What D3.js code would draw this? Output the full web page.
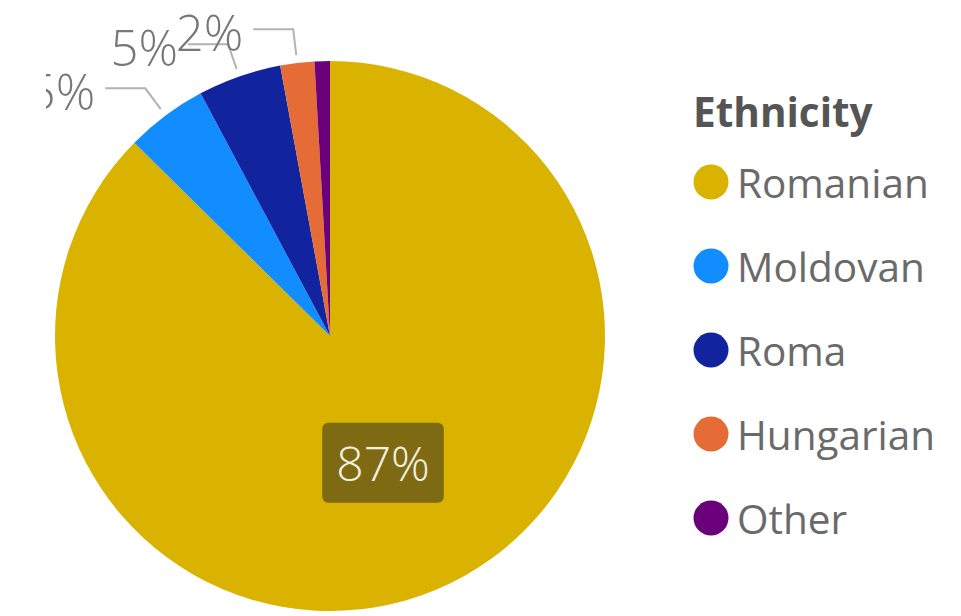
<!DOCTYPE html>
<html><head><meta charset="utf-8">
<script src="https://cdn.jsdelivr.net/npm/d3@7"></script>
<style>html,body{margin:0;padding:0;background:#fff;overflow:hidden}</style>
</head><body>
<svg id="chart" width="961" height="616"></svg>
<script>
// Population share by ethnicity (percent)
const categories = ["Romanian", "Moldovan", "Roma", "Hungarian", "Other"];
const shares = [87.4, 4.8, 4.9, 2.0, 0.9];
const colors = ["#D9B300", "#118DFF", "#12239E", "#E66C37", "#6B007B"];
const legendTitle = "Ethnicity";

const W = 961, H = 616;
const cx = 330, cy = 336, R = 275;
const FONT = "'Open Sans', 'Noto Sans', sans-serif";

const svg = d3.select("#chart");
const total = d3.sum(shares);
const fmt = d3.format(".0%");

const data = categories.map((c, i) => ({ name: c, value: shares[i], color: colors[i] }));
const pie = d3.pie().sort(null).value(d => d.value);
const arcs = pie(data);
const arc = d3.arc().innerRadius(0).outerRadius(R);

// plot area is clipped on the left edge
svg.append("defs").append("clipPath").attr("id", "plotClip")
  .append("rect").attr("x", 46).attr("y", 0).attr("width", W - 46).attr("height", H);

const plot = svg.append("g").attr("clip-path", "url(#plotClip)")
  .append("g").attr("transform", `translate(${cx},${cy})`);

plot.selectAll("path.slice").data(arcs).join("path")
  .attr("class", "slice")
  .attr("d", arc)
  .attr("fill", d => d.data.color);

const polar = (a, r) => [r * Math.sin(a), -r * Math.cos(a)];

// outside labels with leader lines for the small slices
const outside = arcs.filter(d => d.data.value / total < 0.5 && d.data.value / total >= 0.015);
outside.forEach(d => {
  const mid = (d.startAngle + d.endAngle) / 2;
  const p0 = polar(mid, R + 8);
  const p1 = polar(mid, R + 34);
  const p2 = [p1[0] - 40, p1[1]];
  plot.append("polyline")
    .attr("points", [p0, p1, p2].map(p => p.join(",")).join(" "))
    .attr("fill", "none")
    .attr("stroke", "#b3b3b3")
    .attr("stroke-width", 2);
  plot.append("text")
    .attr("x", p2[0] - 10)
    .attr("y", p2[1] + 3)
    .attr("text-anchor", "end")
    .attr("dominant-baseline", "central")
    .attr("font-family", FONT)
    .attr("font-weight", 300)
    .attr("font-size", 49)
    .attr("fill", "#777")
    .text(fmt(d.data.value / total));
});

// inside label for the dominant slice
arcs.filter(d => d.data.value / total >= 0.5).forEach(d => {
  const [x, y] = arc.centroid(d);
  const lg = plot.append("g").attr("transform", `translate(${x},${y})`);
  const rect = lg.append("rect").attr("fill", "#7e6a12").attr("rx", 6);
  const t = lg.append("text")
    .attr("text-anchor", "middle")
    .attr("dominant-baseline", "central")
    .attr("font-family", FONT)
    .attr("font-weight", 300)
    .attr("font-size", 48)
    .attr("fill", "#f4f0e0")
    .text(fmt(d.data.value / total));
  const bb = t.node().getBBox();
  const bw = bb.width + 28, bh = 80;
  rect.attr("x", -bw / 2).attr("y", -bh / 2).attr("width", bw).attr("height", bh);
});

// legend
const legend = svg.append("g");
legend.append("text")
  .attr("x", 693).attr("y", 127)
  .attr("font-family", FONT)
  .attr("font-weight", 700)
  .attr("font-size", 40.5)
  .attr("fill", "#555")
  .text(legendTitle);

const rowY = d3.scalePoint().domain(categories).range([182, 518]);
const items = legend.selectAll("g.item").data(data).join("g")
  .attr("class", "item")
  .attr("transform", d => `translate(0,${rowY(d.name)})`);
items.append("circle").attr("cx", 711).attr("cy", 0).attr("r", 17.5).attr("fill", d => d.color);
items.append("text")
  .attr("x", 737).attr("y", 16)
  .attr("font-family", FONT)
  .attr("font-size", 40.5)
  .attr("fill", "#6a6a6a")
  .text(d => d.name);
</script>
</body></html>
